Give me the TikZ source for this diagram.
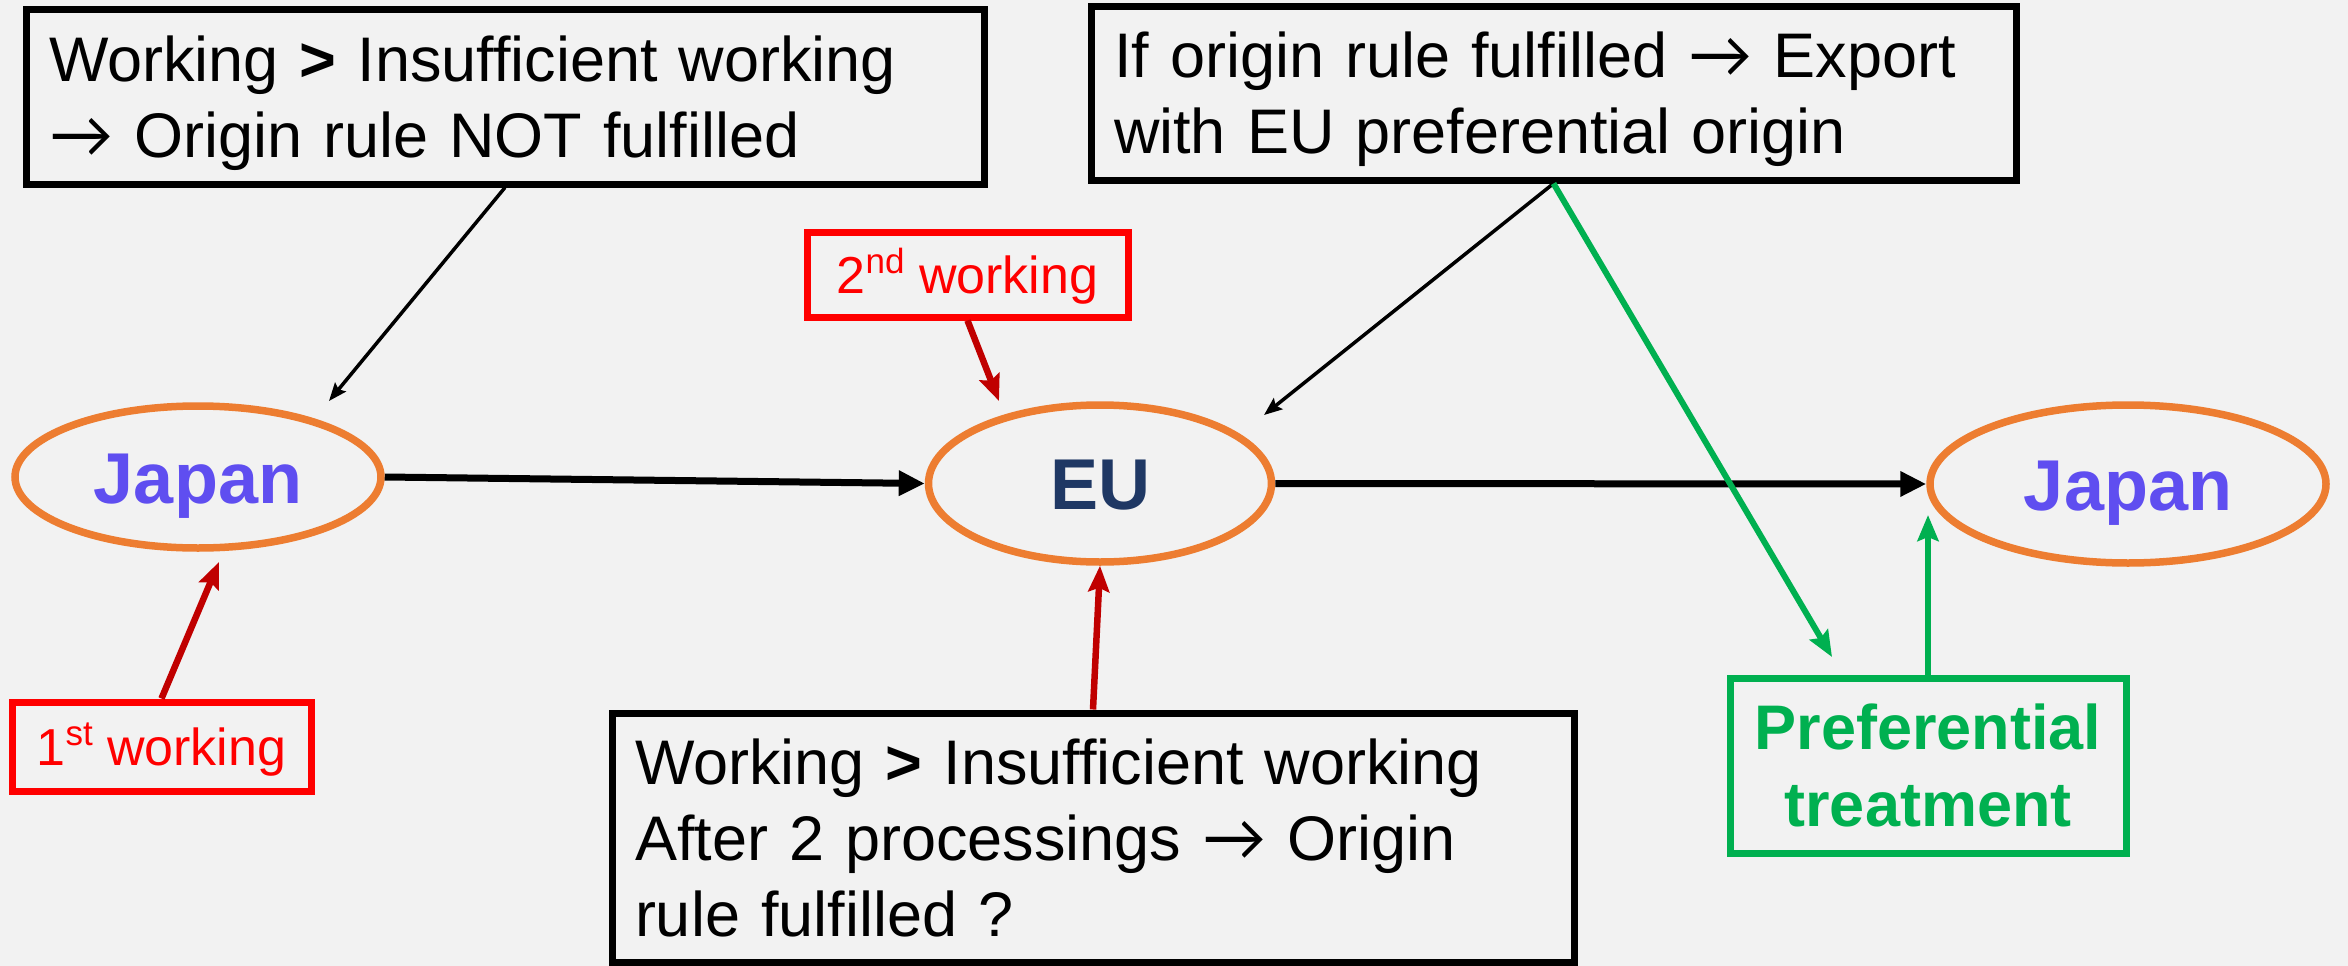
\documentclass[tikz,border=0pt]{standalone}
\usepackage{fontspec}
\setmainfont{Liberation Sans}
\newfontfamily\arrfont{Lato}
\usetikzlibrary{arrows.meta,shapes.geometric,calc}
\definecolor{bg}{HTML}{F2F2F2}
\definecolor{boxred}{HTML}{FF0000}
\definecolor{darkred}{HTML}{C00000}
\definecolor{grn}{HTML}{00B050}
\definecolor{orng}{HTML}{ED7D31}
\definecolor{jpblue}{HTML}{5F4EF0}
\definecolor{eublue}{HTML}{1F3864}
\newcommand{\supx}[1]{\raisebox{20pt}{\fontsize{35}{35}\selectfont #1}}
\newcommand{\bigarr}{{\arrfont\scalebox{1.02}{→}}}
\begin{document}
\begin{tikzpicture}[x=1pt,y=-1pt,
  bbox/.style={draw=black, line width=7pt, rectangle, inner xsep=23pt, inner ysep=0pt, align=left, font=\fontsize{63}{76}\selectfont},
  redbox/.style={draw=boxred, line width=7pt, rectangle, inner sep=0pt, text=boxred, font=\fontsize{52}{60}\selectfont, text height=37pt, text depth=0pt},
  greenbox/.style={draw=grn, line width=7pt, rectangle, inner sep=0pt, text=grn, align=center, font=\bfseries\fontsize{63}{77}\selectfont},
  country/.style={ellipse, draw=orng, line width=7.5pt, inner sep=0pt, font=\bfseries\fontsize{72}{72}\selectfont, text height=52pt, text depth=0pt},
  thinarr/.style={draw=black, line width=3.5pt, -{Stealth[length=18pt,width=14pt,inset=3pt]}},
  thickarr/.style={draw=black, line width=7pt, -{Triangle[length=26pt,width=24pt]}},
  redarr/.style={draw=darkred, line width=6.5pt, -{Stealth[length=26pt,width=21pt,inset=4pt]}},
  greenarr/.style={draw=grn, line width=6pt, -{Stealth[length=26pt,width=21pt,inset=4pt]}}
]
\useasboundingbox (0,0) rectangle (2348,966);
\fill[bg] (0,0) rectangle (2348,966);

% boxes
\node[bbox, minimum width=958pt, minimum height=174pt, text width=912pt] (b1) at (505,97)
  {\rule{0pt}{58pt}Working \textbf{>} Insufficient working\\\bigarr\ Origin rule NOT fulfilled};
\node[bbox, minimum width=925pt, minimum height=173pt, text width=879pt] (b2) at (1553.5,93.5)
  {\rule{0pt}{58pt}If origin rule fulfilled \bigarr\ Export\\with EU preferential origin};
\node[bbox, minimum width=962pt, minimum height=249pt, text width=916pt] (b3) at (1093,837.5)
  {Working \textbf{>} Insufficient working\\After 2 processings \bigarr\ Origin\\rule fulfilled ?};
\node[redbox, minimum width=321pt, minimum height=85pt] (r2) at (967.5,274.5) {2\supx{nd} working};
\node[redbox, minimum width=299pt, minimum height=89pt] (r1) at (161.5,746.5) {1\supx{st} working};
\node[greenbox, minimum width=396pt, minimum height=175pt, text width=380pt] (g) at (1928,765.5)
  {Preferential\\treatment};

% countries
\node[country, minimum width=366pt, minimum height=142pt, text=jpblue] (jp1) at (198,477) {Japan};
\node[country, minimum width=343pt, minimum height=157pt, text=eublue] (eu) at (1100,483.5) {EU};
\node[country, minimum width=396pt, minimum height=158pt, text=jpblue] (jp2) at (2128,484) {Japan};

% free ends
\coordinate (t1) at (329,401);
\coordinate (t2) at (999,401);
\coordinate (t3) at (1264,415);
\coordinate (t4) at (1832,657);
\coordinate (t5) at (1928,515);
\coordinate (t6) at (219,562);

% connectors
\draw[thickarr] (jp1.east) -- (eu.west);
\draw[thickarr] (eu.east) -- (jp2.west);
\draw[thinarr] (b1.south) -- (t1);
\draw[thinarr] (b2.south) -- (t3);
\draw[redarr] (r2.south) -- (t2);
\draw[redarr] (r1.north) -- (t6);
\draw[redarr] (b3.north) -- (eu.south);
\draw[greenarr] (b2.south) -- (t4);
\draw[greenarr] (g.north) -- (t5);
\end{tikzpicture}
\end{document}
